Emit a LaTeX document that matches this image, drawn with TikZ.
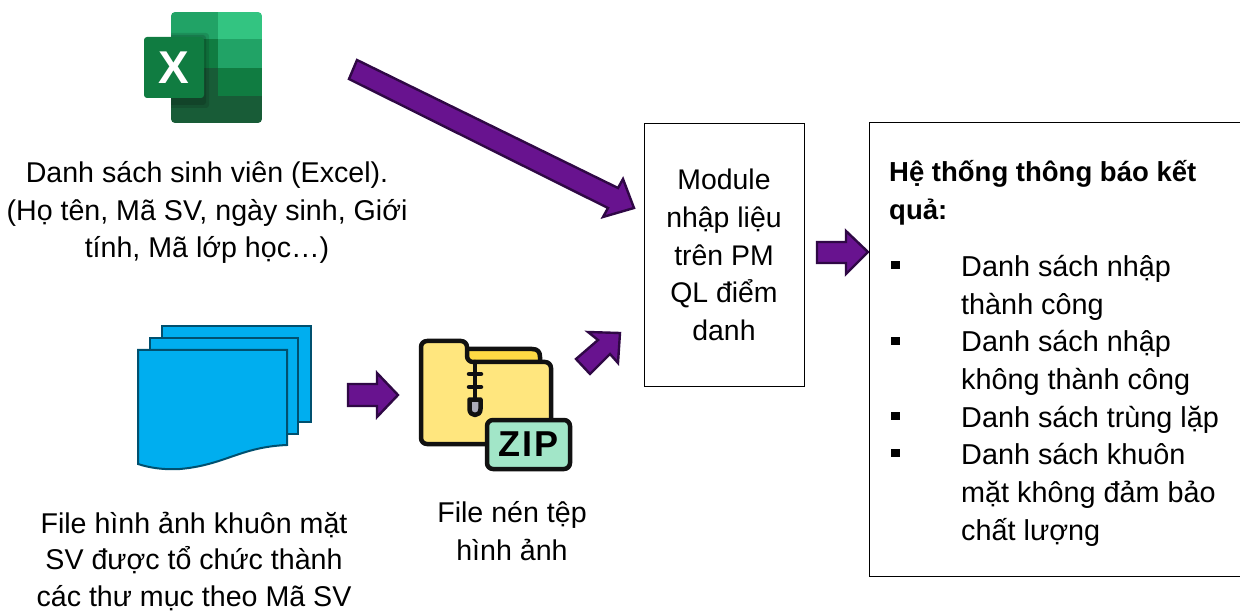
\documentclass[tikz,border=0pt]{standalone}
\usepackage{fontspec}
\setmainfont{Liberation Sans}
\definecolor{arrowfill}{HTML}{68138F}
\definecolor{arrowline}{HTML}{2F0845}
\definecolor{pagefill}{HTML}{00AEEF}
\definecolor{pageline}{HTML}{00506F}
\definecolor{zipyellow}{HTML}{FFE67E}
\definecolor{zipdark}{HTML}{FFDA44}
\definecolor{zipgreen}{HTML}{A2E6C8}
\definecolor{zipline}{HTML}{111111}
\definecolor{xlA}{HTML}{21A366}
\definecolor{xlB}{HTML}{33C481}
\definecolor{xlC}{HTML}{107C41}
\definecolor{xlD}{HTML}{185C37}
\tikzset{
  flowarrow/.style={draw=arrowline,fill=arrowfill,line width=2.4pt,line join=miter},
  pagesheet/.style={draw=pageline,fill=pagefill,line width=2pt,line join=miter},
  bodytext/.style={align=center,font=\fontsize{28.6}{37.8}\selectfont,inner sep=0pt},
  framebox/.style={draw=black,line width=1pt,fill=white},
  zipstroke/.style={draw=zipline,line width=4.5pt,line join=round,line cap=round},
  bulletmark/.style={fill=black},
}
\begin{document}
\begin{tikzpicture}[x=1pt,y=-1pt]
\useasboundingbox (0,0) rectangle (1240,612);
% Excel icon
\begin{scope}
\path[clip,rounded corners=4pt] (171,12) rectangle (262,123);
\fill[xlA] (171,12) rectangle (218,39);
\fill[xlB] (218,12) rectangle (262,39);
\fill[xlC] (171,39) rectangle (218,68);
\fill[xlA] (218,39) rectangle (262,68);
\fill[xlD] (171,68) rectangle (218,96);
\fill[xlC] (218,68) rectangle (262,96);
\fill[xlD] (171,96) rectangle (262,123);
\fill[black,opacity=.12,rounded corners=3pt] (165,33) rectangle (209,108);
\fill[black,opacity=.14,rounded corners=3pt] (165,35) rectangle (206,105);
\end{scope}
\fill[xlC,rounded corners=3pt] (144,37) rectangle (204,98);
\node[inner sep=0pt,text=white] (xl) at (174,67.5) {\fontsize{46}{46}\selectfont\bfseries X};
% Text left
\node[bodytext] (exceltext) at (207,212.5) {Danh sách sinh viên (Excel).\\(Họ tên, Mã SV, ngày sinh, Giới\\tính, Mã lớp học…)};
\node[bodytext,font=\fontsize{28.6}{36.7}\selectfont] (facetext) at (194,561.5) {File hình ảnh khuôn mặt\\SV được tổ chức thành\\các thư mục theo Mã SV};
\node[bodytext] (ziptext) at (512,531) {File nén tệp\\hình ảnh};
% Pages
\draw[pagesheet] (162,326) rectangle (311,422);
\draw[pagesheet] (150,338) rectangle (298,434);
\draw[pagesheet] (138,350) -- (287,350) -- (287,445) .. controls (240,447) and (225,465) .. (180,469) .. controls (165,470) and (150,468) .. (138,464) -- cycle;
% Arrows
\draw[flowarrow] (348,384) -- (377,384) -- (377,373) -- (398,395) -- (377,417) -- (377,406) -- (348,406) -- cycle;
\draw[flowarrow] (817,242) -- (846,242) -- (846,231) -- (868,252) -- (846,274) -- (846,263) -- (817,263) -- cycle;
\draw[flowarrow] (576,359) -- (598,340) -- (588,332) -- (620,333) -- (618,363) -- (610,354) -- (590,374) -- cycle;
\draw[flowarrow] (357,60) -- (618,188) -- (623,179) -- (634,208) -- (603,217) -- (608,208) -- (349,79) -- cycle;
% Zip icon
\draw[zipstroke,fill=zipdark] (465,349) -- (532,349) .. controls (538,349) and (540,352) .. (540,357) -- (540,365) -- (465,365) -- cycle;
\draw[zipstroke,fill=zipyellow,rounded corners=6pt] (421,341) -- (421,444) -- (500,444) -- (500,430) -- (551,430) -- (551,362) -- (467,362) -- (467,341) -- cycle;
\draw[zipstroke] (475,362) -- (475,400);
\draw[zipstroke] (469,374) -- (481,374) (469,387) -- (481,387);
\draw[zipstroke,fill={rgb,255:red,170;green,170;blue,185}] (469.5,399.5) -- (480.5,399.5) -- (480.5,409) .. controls (480.5,417) and (469.5,417) .. (469.5,409) -- cycle;
\draw[zipstroke,fill=zipgreen,rounded corners=6pt] (487,420) rectangle (570,469);
\node[inner sep=0pt] (ziplabel) at (528.5,444.5) {\fontsize{36}{36}\selectfont\bfseries Z\kern2.5pt I\kern2.5pt P};
% Module box
\node[framebox,minimum width=160pt,minimum height=262pt,inner sep=0pt,align=center,font=\fontsize{28.4}{37.6}\selectfont] (module) at (724,255) {Module\\nhập liệu\\trên PM\\QL điểm\\danh};
% Results box
\draw[framebox] (1241,123) -- (869,123) -- (869,576) -- (1241,576);
\node[anchor=north west,inner sep=0pt,align=left,font=\fontsize{27.5}{37.8}\selectfont\bfseries] (title) at (889,160) {Hệ thống thông báo kết\\quả:};
\node[anchor=north west,inner sep=0pt,align=left,font=\fontsize{28.8}{37.7}\selectfont] (items) at (961,255) {Danh sách nhập\\thành công\\Danh sách nhập\\không thành công\\Danh sách trùng lặp\\Danh sách khuôn\\mặt không đảm bảo\\chất lượng};
\fill[bulletmark] (891,261) rectangle (900,269);
\fill[bulletmark] (891,337) rectangle (900,345);
\fill[bulletmark] (891,412) rectangle (900,420);
\fill[bulletmark] (891,449) rectangle (900,457);
\end{tikzpicture}
\end{document}
